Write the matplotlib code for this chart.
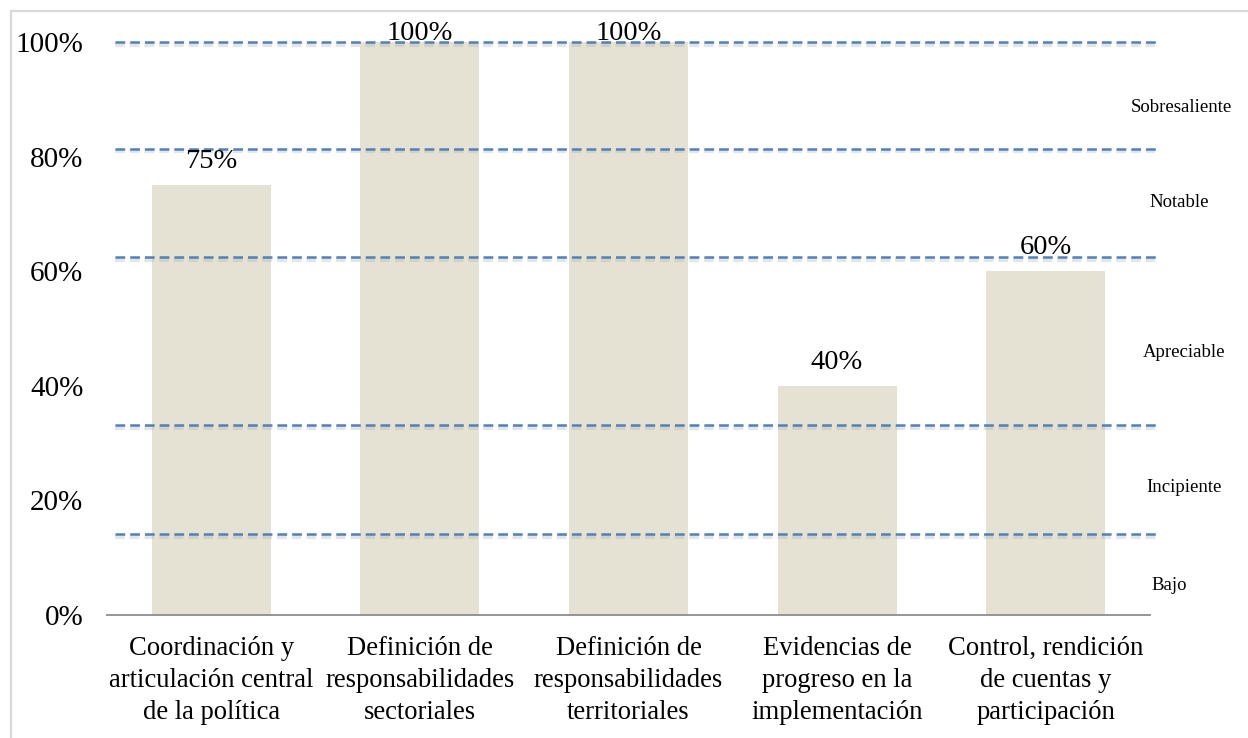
import matplotlib
matplotlib.use('Agg')
import matplotlib.pyplot as plt
import matplotlib.patheffects as pe
from matplotlib.patches import Rectangle

# data
categorias = ['Coordinación y\narticulación central\nde la política',
              'Definición de\nresponsabilidades\nsectoriales',
              'Definición de\nresponsabilidades\nterritoriales',
              'Evidencias de\nprogreso en la\nimplementación',
              'Control, rendición\nde cuentas y\nparticipación']
valores = [0.75, 1.00, 1.00, 0.40, 0.60]
umbrales = [1.0, 0.814, 0.625, 0.331, 0.141]
niveles = ['Sobresaliente', 'Notable', 'Apreciable', 'Incipiente', 'Bajo']
yticks = [0, 0.2, 0.4, 0.6, 0.8, 1.0]

# layout of the level labels on the right (data coords)
niveles_x = [4.652, 4.638, 4.662, 4.662, 4.59]
niveles_y = [0.885, 0.72, 0.458, 0.223, 0.052]

plt.rcParams['font.family'] = ['Liberation Serif', 'DejaVu Serif']
plt.rcParams['lines.scale_dashes'] = False

fig = plt.figure(figsize=(12.48, 7.38), dpi=100)
ax = fig.add_axes([107/1248, 1 - 615/738, 1043/1248, 573/738])

# light frame around the chart area
fig.patches.append(Rectangle((11/1248, -0.1), 1.2, 1 - 11/738 + 0.1,
                             transform=fig.transFigure, fill=False,
                             edgecolor='#d9d9d9', linewidth=1.6))

x = range(len(categorias))
ax.bar(x, valores, width=0.57, color='#e6e2d3', zorder=1)

for xi, v in zip(x, valores):
    ty = min(v + 0.041, 1.015)
    ax.text(xi, ty, '{:.0f}%'.format(v * 100), ha='center', va='center',
            fontsize=20.5, color='black', zorder=4)

for u in umbrales:
    ax.plot([-0.46, 4.55], [u, u], color='#4f81bd', linewidth=1.8,
            dashes=(7, 3.6), clip_on=False, zorder=3,
            path_effects=[pe.SimpleLineShadow(offset=(0, -2), shadow_color='#aaaaaa', alpha=0.3,
                                              linewidth=3),
                          pe.Normal()])

for nom, nx, ny in zip(niveles, niveles_x, niveles_y):
    ax.text(nx, ny, nom, ha='center', va='center', fontsize=13.5, clip_on=False)

ax.set_xlim(-0.5, 4.5)
ax.set_ylim(0, 1)
ax.set_yticks(yticks)
ax.set_yticklabels(['{:.0f}%'.format(t * 100) for t in yticks], fontsize=21)
ax.set_xticks(list(x))
ax.set_xticklabels(categorias, fontsize=19.2, linespacing=1.36)
ax.tick_params(axis='y', length=0, pad=17)
ax.tick_params(axis='x', length=0, pad=15)

for s in ['top', 'right', 'left']:
    ax.spines[s].set_visible(False)
ax.spines['bottom'].set_color('#8c8c8c')
ax.spines['bottom'].set_linewidth(1.3)

fig.savefig('out.png', dpi=100)
